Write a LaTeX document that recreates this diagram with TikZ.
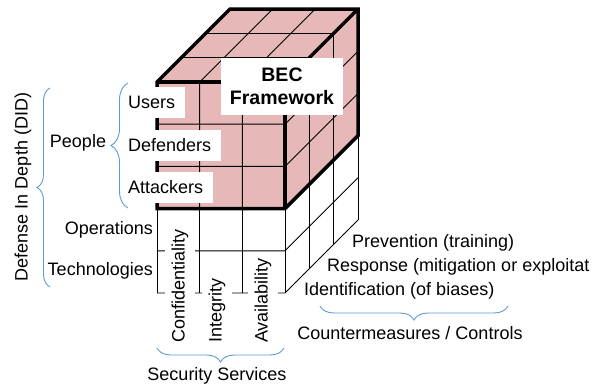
\documentclass[tikz,border=0pt]{standalone}
\usepackage{fontspec}
\setmainfont{Liberation Sans}
\usetikzlibrary{decorations.pathreplacing}
\definecolor{cubepink}{HTML}{E6B9B8}
\definecolor{braceblue}{HTML}{5B9BD5}
\tikzset{
  gridline/.style={line width=0.9pt},
  edgeline/.style={line width=3.5pt, line join=miter},
  lbl/.style={inner sep=0pt, font=\fontsize{18}{21}\selectfont},
  tag/.style={lbl, fill=white, inner xsep=10pt, minimum height=31pt, anchor=west},
  svc/.style={lbl, fill=white, rotate=90, anchor=west, inner xsep=2pt, inner ysep=7pt},
  curly/.style={draw=braceblue, line width=0.9pt, decorate, decoration={brace, amplitude=#1}},
}
\begin{document}
\begin{tikzpicture}[x=1pt,y=-1pt]
\useasboundingbox (0,0) rectangle (603,385);

% the cube: i = service column, j = layer row (bottom up), k = countermeasure depth
\begin{scope}[shift={(157,293)}, x={(42.67pt,0pt)}, y={(0pt,42.2pt)}, z={(24.33pt,24.33pt)}]
  % pink block (people layers)
  \fill[cubepink] (0,2,0) -- (3,2,0) -- (3,2,3) -- (3,5,3) -- (0,5,3) -- (0,5,0) -- cycle;
  \foreach \i in {1,2} \draw[gridline] (\i,2,0) -- (\i,5,0) -- (\i,5,3);
  \foreach \j in {3,4} \draw[gridline] (0,\j,0) -- (3,\j,0) -- (3,\j,3);
  \foreach \k in {1,2} \draw[gridline] (0,5,\k) -- (3,5,\k) -- (3,2,\k);
  % white block (operations and technologies)
  \foreach \i in {0,1,2,3} \draw[gridline] (\i,0,0) -- (\i,2,0);
  \foreach \k in {1,2,3} \draw[gridline] (3,0,\k) -- (3,2,\k);
  \foreach \j in {0,1} \draw[gridline] (0,\j,0) -- (3,\j,0) -- (3,\j,3);
  % heavy outline of the pink block
  \draw[edgeline] (0,2,0) -- (3,2,0) -- (3,2,3) -- (3,5,3) -- (0,5,3) -- (0,5,0) -- cycle;
  \draw[edgeline] (0,5,0) -- (3,5,0) -- (3,2,0);
  \draw[edgeline] (3,5,0) -- (3,5,3);
\end{scope}

% title
\node[fill=white, inner sep=0pt, minimum width=122pt, minimum height=57pt, align=center,
      font=\bfseries\fontsize{19.5}{23}\selectfont] (bec) at (282,86.5) {BEC\\Framework};

% people layers
\node[tag] (users) at (118,102.5) {Users};
\node[tag] (defenders) at (118,145.5) {Defenders};
\node[tag] (attackers) at (118,187.5) {Attackers};
\node[lbl] (people) at (78,143) {People};
\draw[curly=17] (128,208) -- (128,83);

% other layers
\node[lbl, anchor=east] (operations) at (153,230) {Operations};
\node[lbl, anchor=east] (technologies) at (153,271) {Technologies};
\node[lbl, rotate=90] (did) at (23,187) {Defense In Depth (DID)};
\draw[curly=13] (50,287) -- (50,88);

% security services
\node[svc] (conf) at (180,345) {Confidentiality};
\node[svc] (integ) at (217,345) {Integrity};
\node[svc] (avail) at (263,345) {Availability};
\draw[curly=14] (284,348) -- (157,348);
\node[lbl] (services) at (217,376) {Security Services};

% countermeasures
\node[lbl, anchor=west] (prevention) at (352,243) {Prevention (training)};
\node[lbl, anchor=west] (response) at (327,267) {Response (mitigation or exploitat};
\node[lbl, anchor=west] (identification) at (304,291) {Identification (of biases)};
\draw[curly=14] (508,306) -- (320,306);
\node[lbl] (controls) at (410,333) {Countermeasures / Controls};
\end{tikzpicture}
\end{document}
